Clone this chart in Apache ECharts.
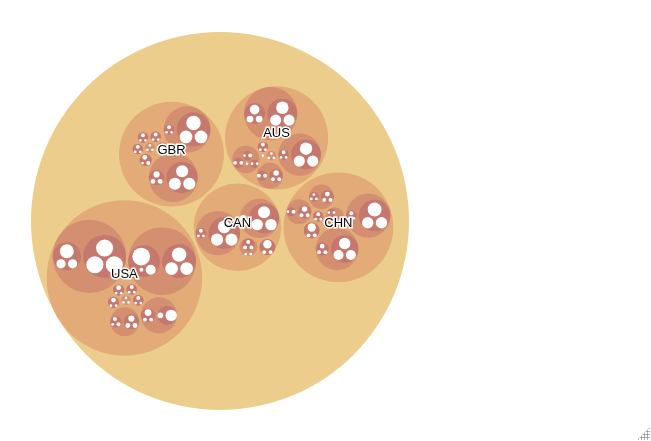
<!DOCTYPE html>
<html>
<head>
<meta charset="utf-8">
<script src="https://cdn.jsdelivr.net/npm/echarts@6/dist/echarts.min.js"></script>
<style>
html, body { margin: 0; padding: 0; background: #ffffff; }
#wrap { position: relative; width: 651px; height: 441px; overflow: hidden; }
#main { width: 651px; height: 441px; }
#grip {
  position: absolute; right: 1px; bottom: 1px; width: 13px; height: 13px;
  background-image: radial-gradient(circle, #8c8c8c 0.9px, rgba(0,0,0,0) 1.2px);
  background-size: 3px 3px; background-position: 0 0;
  clip-path: polygon(100% 0, 100% 100%, 0 100%);
}
</style>
</head>
<body>
<div id="wrap"><div id="main"></div><div id="grip"></div></div>
<script>
// ---------------- data ----------------
// country -> groups -> sub-groups -> leaf values
const countries = ['CAN', 'CHN', 'AUS', 'GBR', 'USA'];

const CAN = [
  [[1, 1, 2], [19, 19, 21]],
  [[6], [17, 17, 19]],
  [[2, 2, 9]],
  [[1], [1], [2, 2, 2]]
];
const CHN = [
  [[1, 1, 2], [17, 17, 25]],
  [[2, 2, 3], [13, 13, 17]],
  [[1, 2], [2, 2, 4]],
  [[1, 1, 1], [2, 2, 3]],
  [[2, 2, 9]],
  [[1, 1], [1], [1, 1]],
  [[1, 1, 2]]
];
const AUS = [
  [[6, 6, 12], [16, 16, 20]],
  [[1, 1, 2], [16, 16, 20]],
  [[2, 2], [2, 2, 4]],
  [[1]],
  [[1, 1, 2]],
  [[1], [1], [1]],
  [[1, 1], [1, 2], [2, 2], [1]]
];
const GBR = [
  [[1, 1, 2], [21, 21, 27]],
  [[3, 3, 5], [19, 19, 19]],
  [[1, 1, 2]],
  [[1, 2, 3]],
  [[1, 1, 2]],
  [[1, 1, 2]],
  [[1], [1], [1]],
  [[1, 1, 2]]
];
const USA = [
  [[11, 11, 25], [38, 38, 38]],
  [[2, 13, 41], [21, 21, 27]],
  [[1, 2, 2], [3, 3, 5]],
  [[2, 2, 6], [4, 17]],
  [[1, 1, 2]],
  [[1, 1, 3]],
  [[1, 1, 2]],
  [[1, 1, 3]],
  [[1], [1], [1]]
];
const groupsByCountry = { CAN: CAN, CHN: CHN, AUS: AUS, GBR: GBR, USA: USA };

// ---------------- style ----------------
const depthColors = ['#EDCD8B', '#E2AB78', '#D38F6F', '#C4786E', '#FFFFFF'];
const PACK_SIZE = 378, PADDING = 3, CENTER_X = 220, CENTER_Y = 221;

// ---------------- hierarchy ----------------
function buildTree() {
  return {
    name: 'root', depth: 0,
    children: countries.map(function (c) {
      return {
        name: c, depth: 1,
        children: groupsByCountry[c].map(function (g) {
          return {
            depth: 2,
            children: g.map(function (leaves) {
              return {
                depth: 3,
                children: leaves.map(function (v) { return { depth: 4, value: v }; })
              };
            })
          };
        })
      };
    })
  };
}
function sumAndSort(node) {
  if (node.children) {
    let s = 0;
    node.children.forEach(function (c) { s += sumAndSort(c); });
    node.value = s;
    node.children.sort(function (a, b) { return a.value - b.value; });
  }
  return node.value;
}
function visitAfter(node, fn) {
  if (node.children) node.children.forEach(function (c) { visitAfter(c, fn); });
  fn(node);
}

// ---------------- pack layout (front-chain) ----------------
function packInsert(a, b) {
  const c = a._next; a._next = b; b._prev = a; b._next = c; c._prev = b;
}
function packSplice(a, b) { a._next = b; b._prev = a; }
function packIntersects(a, b) {
  const dx = b.x - a.x, dy = b.y - a.y, dr = a.r + b.r;
  return 0.999 * dr * dr > dx * dx + dy * dy;
}
function packPlace(a, b, c) {
  let db = a.r + c.r;
  const dx = b.x - a.x, dy = b.y - a.y;
  if (db && (dx || dy)) {
    let da = b.r + c.r;
    const dc = dx * dx + dy * dy;
    da *= da; db *= db;
    const x = 0.5 + (db - da) / (2 * dc);
    const y = Math.sqrt(Math.max(0, 2 * da * (db + dc) - (db -= dc) * db - da * da)) / (2 * dc);
    c.x = a.x + x * dx + y * dy;
    c.y = a.y + x * dy - y * dx;
  } else {
    c.x = a.x + db; c.y = a.y;
  }
}
function packSiblings(node) {
  const nodes = node.children;
  if (!nodes || !nodes.length) return;
  let xMin = Infinity, xMax = -Infinity, yMin = Infinity, yMax = -Infinity;
  function bound(n) {
    xMin = Math.min(n.x - n.r, xMin); xMax = Math.max(n.x + n.r, xMax);
    yMin = Math.min(n.y - n.r, yMin); yMax = Math.max(n.y + n.r, yMax);
  }
  nodes.forEach(function (n) { n._next = n._prev = n; });
  const n = nodes.length;
  let a = nodes[0], b, c;
  a.x = -a.r; a.y = 0; bound(a);
  if (n > 1) {
    b = nodes[1]; b.x = b.r; b.y = 0; bound(b);
    if (n > 2) {
      c = nodes[2];
      packPlace(a, b, c); bound(c);
      packInsert(a, c); a._prev = c; packInsert(c, b);
      b = a._next;
      for (let i = 3; i < n; i++) {
        packPlace(a, b, c = nodes[i]);
        let isect = 0, s1 = 1, s2 = 1, j, k;
        for (j = b._next; j !== b; j = j._next, s1++) {
          if (packIntersects(j, c)) { isect = 1; break; }
        }
        if (isect === 1) {
          for (k = a._prev; k !== j._prev; k = k._prev, s2++) {
            if (packIntersects(k, c)) break;
          }
        }
        if (isect) {
          if (s1 < s2 || (s1 === s2 && b.r < a.r)) packSplice(a, b = j);
          else packSplice(a = k, b);
          i--;
        } else {
          packInsert(a, c); b = c; bound(c);
        }
      }
    }
  }
  const cx = (xMin + xMax) / 2, cy = (yMin + yMax) / 2;
  let cr = 0;
  nodes.forEach(function (d) {
    d.x -= cx; d.y -= cy;
    cr = Math.max(cr, d.r + Math.sqrt(d.x * d.x + d.y * d.y));
  });
  node.r = cr;
  nodes.forEach(function (d) { delete d._next; delete d._prev; });
}
function packTransform(node, x, y, k) {
  node.x = x += k * node.x;
  node.y = y += k * node.y;
  node.r *= k;
  if (node.children) node.children.forEach(function (c) { packTransform(c, x, y, k); });
}
function pack(root) {
  root.x = root.y = 0;
  visitAfter(root, function (d) { d.r = Math.sqrt(d.value); });
  visitAfter(root, packSiblings);
  const dr = PADDING * (2 * root.r / PACK_SIZE) / 2;
  visitAfter(root, function (d) { d.r += dr; });
  visitAfter(root, packSiblings);
  visitAfter(root, function (d) { d.r -= dr; });
  root.x = 0; root.y = 0;
  packTransform(root, CENTER_X, CENTER_Y, PACK_SIZE / (2 * root.r));
}

const tree = buildTree();
sumAndSort(tree);
pack(tree);
const nodes = [];
(function collect(n) { nodes.push(n); if (n.children) n.children.forEach(collect); })(tree);

// ---------------- chart ----------------
const chart = echarts.init(document.getElementById('main'), null, { renderer: 'canvas' });
chart.setOption({
  animation: false,
  series: [{
    type: 'custom',
    coordinateSystem: 'none',
    silent: true,
    data: nodes.map(function (n, i) { return [i, n.depth, n.value]; }),
    renderItem: function (params, api) {
      const n = nodes[api.value(0)];
      const circle = {
        type: 'circle',
        shape: { cx: n.x, cy: n.y, r: Math.max(0, n.r) },
        style: { fill: depthColors[n.depth], stroke: null },
        z2: n.depth
      };
      if (n.depth !== 1) return circle;
      return {
        type: 'group',
        children: [circle, {
          type: 'text',
          x: n.x,
          y: n.y - 4,
          z2: 100,
          style: {
            text: n.name,
            align: 'center',
            verticalAlign: 'middle',
            fontSize: 13,
            fontFamily: '"Liberation Sans", Arial, sans-serif',
            fill: '#000000',
            stroke: '#ffffff',
            lineWidth: 3
          }
        }]
      };
    }
  }]
});
</script>
</body>
</html>
